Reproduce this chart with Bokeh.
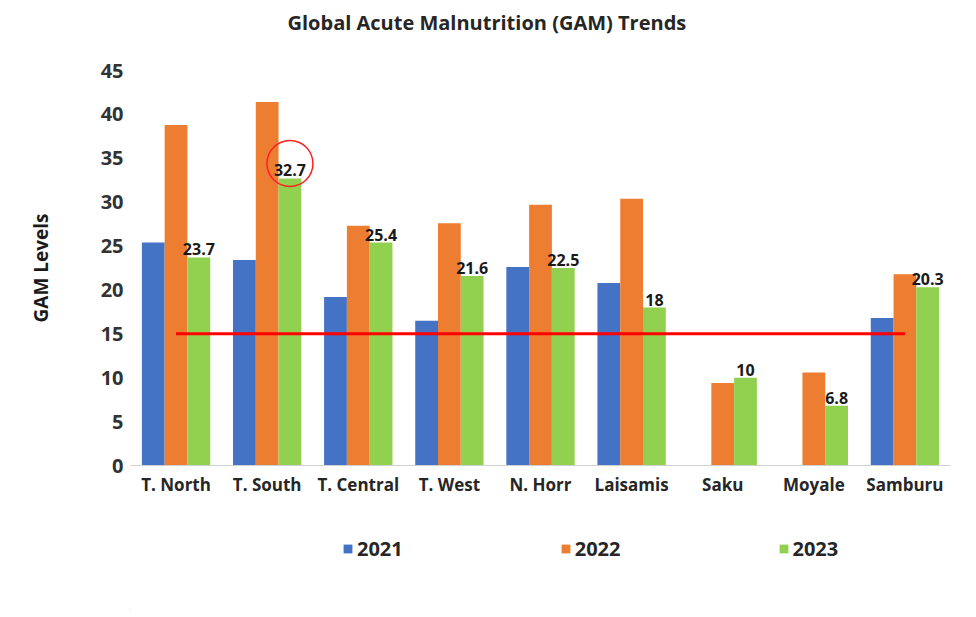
from bokeh.plotting import figure
from bokeh.layouts import column
from bokeh.models import (FactorRange, Range1d, LabelSet, Label, ColumnDataSource,
                          Legend, LegendItem)
from bokeh.transform import dodge
from bokeh.core.properties import value
from bokeh.embed import file_html
from bokeh.resources import INLINE

nan = float("nan")

title_text = "Global Acute Malnutrition (GAM) Trends"
districts = ["T. North", "T. South", "T. Central", "T. West", "N. Horr",
             "Laisamis", "Saku", "Moyale", "Samburu"]
gam_2021 = [25.4, 23.4, 19.2, 16.5, 22.6, 20.8, nan, nan, 16.8]
gam_2022 = [38.8, 41.4, 27.3, 27.6, 29.7, 30.4, 9.4, 10.6, 21.8]
gam_2023 = [23.7, 32.7, 25.4, 21.6, 22.5, 18.0, 10.0, 6.8, 20.3]
threshold = [15, 15, 15, 15, 15, 15, 15, 15, 15]
years = ["2021", "2022", "2023"]
y_ticks = [0, 5, 10, 15, 20, 25, 30, 35, 40, 45]
highlight = ["T. South"]

FONT = "Open Sans"
BLUE, ORANGE, GREEN = "#4472C4", "#ED7D31", "#92D050"
COLORS = [BLUE, ORANGE, GREEN]


def strip(height):
    f = figure(x_range=Range1d(0, 820), y_range=Range1d(0, height), width=960,
               height=height, output_backend="svg", toolbar_location=None,
               x_axis_type=None, y_axis_type=None, min_border=0)
    f.outline_line_color = None
    f.xgrid.grid_line_color = None
    f.ygrid.grid_line_color = None
    return f


# title strip (its frame is aligned with the chart frame)
t = strip(40)
t.add_layout(Label(x=157, y=18, text=title_text, text_align="left",
                   text_baseline="middle", text_font=FONT, text_font_size="20px",
                   text_font_style="bold", text_color="#262626"))

src = ColumnDataSource(dict(
    d=districts, y21=gam_2021, y22=gam_2022, y23=gam_2023, thr=threshold,
    lab=[("%g" % v) for v in gam_2023],
))

p = figure(x_range=FactorRange(*districts), y_range=Range1d(0, 45),
           width=960, height=480, output_backend="svg", toolbar_location=None,
           min_border_left=130, min_border_right=10, min_border_top=30,
           min_border_bottom=55)
p.outline_line_color = None
p.background_fill_color = "white"
p.border_fill_color = "white"
p.xgrid.grid_line_color = None
p.ygrid.grid_line_color = None

bw = 0.25
p.vbar(x=dodge("d", -bw, range=p.x_range), top="y21", width=bw, source=src,
       fill_color=BLUE, line_color=None)
p.vbar(x=dodge("d", 0, range=p.x_range), top="y22", width=bw, source=src,
       fill_color=ORANGE, line_color=None)
p.vbar(x=dodge("d", bw, range=p.x_range), top="y23", width=bw, source=src,
       fill_color=GREEN, line_color=None)

p.line(x="d", y="thr", source=src, line_color="#FF0000", line_width=3)

labels = LabelSet(x=dodge("d", bw, range=p.x_range), y="y23", text="lab", source=src,
                  text_align="center", text_baseline="bottom", y_offset=2,
                  text_font=value(FONT), text_font_style="bold", text_font_size="16px",
                  text_color="#1a1a1a")
p.add_layout(labels)

# highlight ring around the T. South 2023 label
hi_idx = [districts.index(h) for h in highlight]
hsrc = ColumnDataSource(dict(d=highlight, y=[gam_2023[i] + 1.7 for i in hi_idx]))
p.scatter(x=dodge("d", bw, range=p.x_range), y="y", source=hsrc, marker="circle",
          size=46, fill_alpha=0, line_color="#FF2020", line_width=1.5)

# axes
xa = p.xaxis[0]
xa.axis_line_color = "#d0d0d0"
xa.major_tick_line_color = None
xa.minor_tick_line_color = None
xa.major_tick_out = 0
xa.major_tick_in = 0
xa.major_label_text_font = FONT
xa.major_label_text_font_style = "bold"
xa.major_label_text_font_size = "17px"
xa.major_label_text_color = "#262626"
xa.major_label_standoff = 7

ya = p.yaxis[0]
ya.ticker = y_ticks
ya.axis_line_color = None
ya.major_tick_line_color = None
ya.minor_tick_line_color = None
ya.major_tick_out = 0
ya.major_tick_in = 0
ya.major_label_text_font = FONT
ya.major_label_text_font_style = "bold"
ya.major_label_text_font_size = "20px"
ya.major_label_text_color = "#333333"
ya.major_label_standoff = 7
ya.axis_label = "GAM Levels"
ya.axis_label_text_font = FONT
ya.axis_label_text_font_style = "bold"
ya.axis_label_text_font_size = "19px"
ya.axis_label_text_color = "#1a1a1a"
ya.axis_label_standoff = 44

# legend strip below the chart
q = strip(90)
items = []
for yr, col in zip(years, COLORS):
    r = q.vbar(x=[-100], top=[1], width=1, fill_color=col, line_color=None)
    items.append(LegendItem(label=yr, renderers=[r]))
legend = Legend(items=items, orientation="horizontal", location=(212, 48),
                glyph_width=11, glyph_height=11, label_standoff=4, spacing=157,
                padding=0, margin=0, border_line_color=None,
                background_fill_alpha=0,
                label_text_font=FONT, label_text_font_style="bold",
                label_text_font_size="20px", label_text_color="#262626",
                label_height=24)
q.add_layout(legend, "center")

open("out.html", "w").write(file_html(column(t, p, q, spacing=0), INLINE))
